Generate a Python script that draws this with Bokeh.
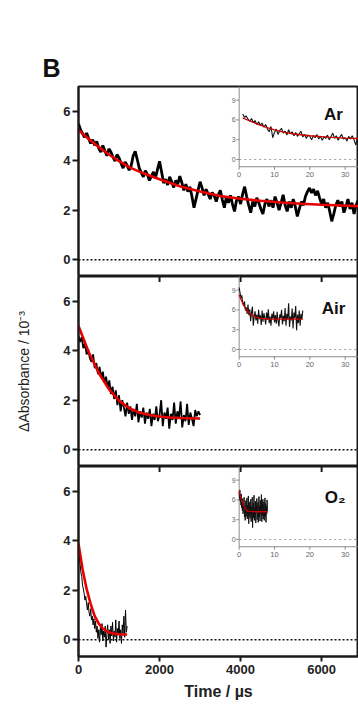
from bokeh.plotting import figure
from bokeh.layouts import column
from bokeh.models import Range1d, FixedTicker, Span, Label
from bokeh.embed import file_html
from bokeh.resources import INLINE
from bokeh.core.properties import value

FONT = "Liberation Sans"

# ---------------- main panels: time in microseconds, dAbs in 1e-3 ----------------
ar_t = [i * 50 for i in range(139)]
ar_y = [5.50, 5.25, 5.10, 4.95, 5.12, 4.90, 4.70, 4.85, 4.62, 4.78,
        4.50, 4.35, 4.62, 4.40, 4.20, 4.48, 4.35, 4.15, 3.98, 4.25,
        4.12, 3.90, 3.70, 3.95, 3.82, 3.62, 3.80, 4.20, 4.38, 4.05,
        3.70, 3.52, 3.35, 3.60, 3.45, 3.20, 3.38, 3.55, 3.30, 3.65,
        3.98, 3.55, 3.10, 3.25, 3.02, 3.35, 3.15, 2.92, 3.20, 3.05,
        3.38, 3.12, 2.80, 3.05, 2.75, 2.95, 2.55, 2.10, 2.45, 2.80,
        3.15, 2.90, 2.60, 2.85, 2.65, 2.45, 2.72, 2.58, 2.35, 2.62,
        2.80, 2.42, 2.10, 2.55, 2.30, 2.60, 2.25, 1.95, 2.40, 2.55,
        2.25, 2.65, 2.95, 2.55, 2.20, 1.90, 2.35, 2.15, 2.50, 2.30,
        2.05, 1.85, 2.25, 2.45, 2.15, 2.40, 2.10, 2.55, 2.30, 2.00,
        2.30, 2.62, 2.20, 1.95, 2.35, 2.10, 2.45, 2.15, 1.75, 2.05,
        2.35, 2.20, 2.55, 2.75, 2.90, 2.70, 2.85, 2.60, 2.78, 2.50,
        2.25, 2.45, 2.10, 2.30, 1.95, 1.55, 1.85, 2.20, 2.40, 2.15,
        2.35, 1.90, 2.15, 2.45, 2.05, 2.30, 1.85, 2.20, 2.40]
ar_fit_t = [0, 250, 500, 750, 1000, 1250, 1500, 1750, 2000, 2500, 3000, 3500,
            4000, 4500, 5000, 5500, 6000, 6500, 7000]
ar_fit_y = [5.24, 4.88, 4.55, 4.25, 3.98, 3.74, 3.56, 3.40, 3.25, 2.97, 2.76, 2.57,
            2.46, 2.38, 2.31, 2.26, 2.22, 2.19, 2.16]

air_t = [i * 40 for i in range(76)]
air_y = [4.60, 4.35, 4.55, 4.10, 4.30, 3.85, 4.05, 3.70, 3.55, 3.85,
         3.30, 3.50, 3.05, 3.35, 2.90, 3.15, 2.70, 2.95, 2.50, 2.80,
         2.25, 2.55, 2.05, 2.40, 1.80, 2.20, 1.55, 2.00, 1.70, 1.35,
         1.90, 1.45, 1.75, 1.20, 1.65, 1.35, 1.85, 1.10, 1.55, 1.30,
         1.70, 1.05, 1.50, 1.25, 1.65, 0.95, 1.45, 1.20, 1.75, 1.15,
         1.40, 2.00, 0.95, 1.50, 1.25, 1.70, 0.85, 1.45, 1.20, 1.90,
         1.05, 1.55, 1.30, 1.95, 0.90, 1.40, 1.15, 1.85, 1.00, 1.50,
         1.25, 0.95, 1.60, 1.35, 1.55, 1.40]
air_fit_t = [0, 250, 500, 750, 1000, 1250, 1500, 1750, 2000, 2250, 2500, 2750, 3000]
air_fit_y = [5.00, 3.95, 3.10, 2.45, 1.98, 1.68, 1.50, 1.40, 1.34, 1.30, 1.28, 1.27, 1.26]

o2_t = [i * 20 for i in range(61)]
o2_y = [3.70, 3.30, 3.05, 2.70, 2.55, 2.20, 2.05, 1.85, 1.60, 1.75,
        1.45, 1.20, 1.50, 1.10, 0.95, 1.25, 0.80, 0.95, 0.60, 0.85,
        0.45, 0.75, 0.30, 0.55, 0.05, 0.40, -0.10, 0.50, 0.20, 0.65,
        -0.05, 0.35, 0.10, 0.55, -0.30, 0.25, 0.60, 0.00, 0.40, -0.15,
        0.55, 0.15, 0.70, -0.05, 0.35, 0.10, 0.80, -0.10, 0.45, 0.20,
        0.75, 0.05, 0.40, -0.15, 0.60, 0.25, 0.95, 0.10, 1.20, 0.30,
        0.55]
o2_fit_t = [0, 100, 200, 300, 400, 500, 600, 700, 800, 900, 1000, 1100, 1200]
o2_fit_y = [3.88, 2.85, 2.05, 1.45, 0.95, 0.65, 0.45, 0.34, 0.27, 0.24, 0.22, 0.21, 0.21]

# ---------------- insets ----------------
ar_in_x = [1.0 + 0.5 * i for i in range(70)]
ar_in_y = [6.90, 6.40, 6.60, 6.10, 5.80, 6.20, 5.60, 5.90, 5.30, 5.70,
           5.20, 5.50, 4.90, 5.30, 4.60, 4.20, 5.00, 3.30, 4.10, 4.60,
           3.80, 4.40, 4.70, 4.00, 4.30, 3.70, 4.50, 3.90, 4.20, 3.60,
           4.10, 3.50, 3.90, 4.30, 3.40, 3.80, 3.20, 3.70, 3.50, 3.00,
           3.60, 3.30, 3.80, 3.10, 3.50, 2.90, 3.40, 3.20, 3.70, 3.00,
           3.50, 4.00, 3.20, 3.60, 2.90, 3.40, 3.80, 3.10, 3.30, 2.80,
           3.50, 3.10, 3.60, 3.00, 2.20, 3.40, 2.90, 3.30, 3.60, 3.10]
ar_in_fit_x = [1, 2.5, 5, 7.5, 10, 12.5, 15, 20, 25, 30, 35, 38]
ar_in_fit_y = [6.30, 5.95, 5.40, 4.90, 4.50, 4.15, 3.90, 3.60, 3.40, 3.25, 3.15, 3.10]

air_in_x = [0.25 * i for i in range(73)]
air_in_y = [9.40, 8.60, 7.80, 8.20, 7.10, 6.60, 7.30, 5.90, 6.40, 5.40,
            6.80, 5.20, 6.10, 4.30, 5.60, 6.50, 3.60, 5.00, 5.80, 4.40,
            5.30, 3.90, 6.00, 4.60, 5.20, 3.70, 5.90, 4.20, 5.50, 4.80,
            3.80, 5.60, 4.50, 6.10, 4.00, 5.00, 3.60, 5.40, 4.70, 5.80,
            4.10, 5.20, 3.90, 5.70, 4.40, 3.50, 5.30, 4.80, 6.00, 3.80,
            5.10, 4.30, 6.30, 3.60, 5.40, 4.60, 7.00, 3.40, 5.00, 4.40,
            6.20, 3.20, 5.60, 4.80, 6.60, 2.90, 5.30, 4.00, 5.90, 3.60,
            5.40, 4.60, 5.90]
air_in_fit_x = [0, 0.5, 1, 1.5, 2, 3, 4, 5, 6, 8, 10, 14, 18]
air_in_fit_y = [8.30, 7.60, 7.00, 6.50, 6.10, 5.50, 5.10, 4.85, 4.72, 4.62, 4.60, 4.60, 4.60]

o2_in_x = [0.1 * i for i in range(81)]
o2_in_y = [7.20, 6.10, 7.50, 5.80, 6.60, 5.20, 6.90, 4.80, 5.90, 4.40,
           6.20, 3.90, 5.40, 4.60, 6.40, 3.40, 5.10, 2.90, 4.80, 5.90,
           3.50, 4.70, 6.30, 3.10, 5.20, 4.00, 6.60, 2.40, 4.90, 3.60,
           5.70, 3.20, 4.50, 6.10, 2.70, 5.00, 3.80, 6.40, 1.80, 4.60,
           5.50, 3.30, 6.70, 2.90, 4.80, 3.70, 5.80, 2.50, 5.20, 4.10,
           6.20, 3.00, 4.70, 5.60, 2.60, 4.40, 6.50, 3.40, 5.10, 2.80,
           5.90, 3.80, 4.90, 6.80, 2.70, 5.30, 3.60, 6.10, 3.10, 4.60,
           5.70, 2.90, 4.40, 6.30, 3.50, 5.40, 2.60, 5.00, 3.90, 6.00,
           4.30]
o2_in_fit_x = [0, 0.5, 1, 1.5, 2, 2.5, 3, 5, 8]
o2_in_fit_y = [7.30, 6.30, 5.50, 4.90, 4.50, 4.30, 4.25, 4.20, 4.20]

x_ticks = [0, 2000, 4000, 6000]
y_ticks = [0, 2, 4, 6]
inset_xticks = [0, 10, 20, 30]
inset_yticks = [0, 3, 6, 9]
gas_labels = ["Ar", "Air", "O\u2082"]
panel_letter = "B"

AX = "#1a1a1a"
RED = "#e60000"
GRAY = "#8a8a8a"
Y_TOP = 7.0
x_range = Range1d(0, 6910)


def style_y(p):
    ax = p.yaxis[0]
    ax.ticker = FixedTicker(ticks=y_ticks)
    ax.major_label_text_font = FONT
    ax.major_label_text_font_style = "bold"
    ax.major_label_text_font_size = "13px"
    ax.major_label_text_color = "#222222"
    ax.axis_line_width = 2
    ax.axis_line_color = AX
    ax.major_tick_line_width = 2
    ax.major_tick_line_color = AX
    ax.major_tick_out = 6
    ax.major_tick_in = 0
    ax.minor_tick_out = 0
    ax.minor_tick_in = 0
    ax.major_label_standoff = 2


def make_panel(height, top, bottom, below):
    p = figure(width=358, height=height, x_range=x_range,
               y_range=Range1d(-0.68, Y_TOP),
               output_backend="svg", toolbar_location=None,
               min_border_left=78, min_border_right=0,
               min_border_top=top, min_border_bottom=bottom,
               x_axis_location="below" if below else None)
    p.grid.visible = False
    p.outline_line_color = AX
    p.outline_line_width = 2
    p.background_fill_color = "white"
    p.border_fill_color = "white"
    style_y(p)
    return p


def add_top_ticks(p):
    # ticks of the panel above, hanging into this panel
    ticks = x_ticks[1:]
    p.segment(x0=ticks, y0=[Y_TOP] * len(ticks), x1=ticks,
              y1=[Y_TOP - 0.22] * len(ticks), line_color=AX, line_width=2)


def add_main(p, t, y, lw, ft, fy):
    p.add_layout(Span(location=0, dimension="width", line_color="#111111",
                      line_width=1.6, line_dash="2 2"))
    p.line(t, y, line_color="#000000", line_width=lw)
    p.line(ft, fy, line_color=RED, line_width=2.6)


def add_inset(p, x, y, fx, fy, lw):
    sub = p.subplot(x_source=Range1d(0, 10), y_source=Range1d(0, 9),
                    x_target=Range1d(3965, 4837), y_target=Range1d(4.05, 6.45))
    sub.segment(x0=[0], y0=[0], x1=[45], y1=[0], line_color="#a0a0a0",
                line_width=1, line_dash="2 3")
    sub.segment(x0=[0, 0], y0=[-1.1, -1.1], x1=[0, 45], y1=[12, -1.1],
                line_color=GRAY, line_width=1)
    sub.segment(x0=[-0.8] * len(inset_yticks), y0=inset_yticks,
                x1=[0] * len(inset_yticks), y1=inset_yticks,
                line_color=GRAY, line_width=1)
    sub.segment(x0=inset_xticks, y0=[-1.1] * len(inset_xticks),
                x1=inset_xticks, y1=[-1.55] * len(inset_xticks),
                line_color=GRAY, line_width=1)
    sub.text(x=[-1.0] * len(inset_yticks), y=inset_yticks,
             text=[str(v) for v in inset_yticks],
             text_font=value(FONT), text_font_size=value("7px"),
             text_color="#666666", text_align="right", text_baseline="middle")
    sub.text(x=inset_xticks, y=[-1.9] * len(inset_xticks),
             text=[str(v) for v in inset_xticks],
             text_font=value(FONT), text_font_size=value("7.5px"),
             text_color="#666666", text_align="center", text_baseline="top")
    sub.line(x, y, line_color="#111111", line_width=lw)
    sub.line(fx, fy, line_color="#cc0000", line_width=1.3)


def add_gas(p, text, x, y):
    p.add_layout(Label(x=x, y=y, text=text, text_font=FONT,
                       text_font_size="17px", text_font_style="bold",
                       text_color="#111111", text_baseline="alphabetic"))


# Panel 1 (Ar) with the panel letter as its title
p1 = make_panel(276, 86, 0, False)
p1.title.text = panel_letter
p1.title.align = "left"
p1.title.offset = -36
p1.title.text_font = FONT
p1.title.text_font_size = "25px"
p1.title.text_font_style = "bold"
p1.title.text_color = "#111111"
add_main(p1, ar_t, ar_y, 2.8, ar_fit_t, ar_fit_y)
add_inset(p1, ar_in_x, ar_in_y, ar_in_fit_x, ar_in_fit_y, 1.1)
add_gas(p1, gas_labels[0], 6060, 5.87)

# Panel 2 (Air)
p2 = make_panel(190, 0, 0, False)
add_top_ticks(p2)
add_main(p2, air_t, air_y, 1.8, air_fit_t, air_fit_y)
add_inset(p2, air_in_x, air_in_y, air_in_fit_x, air_in_fit_y, 1.1)
add_gas(p2, gas_labels[1], 6000, 5.71)
ya = p2.yaxis[0]
ya.axis_label = "\u0394Absorbance / 10\u207b\u00b3"
ya.axis_label_text_font = FONT
ya.axis_label_text_font_style = "normal"
ya.axis_label_text_font_size = "14px"
ya.axis_label_text_color = "#222222"
ya.axis_label_standoff = 28

# Panel 3 (O2)
p3 = make_panel(243, 0, 53, True)
add_top_ticks(p3)
add_main(p3, o2_t, o2_y, 1.0, o2_fit_t, o2_fit_y)
add_inset(p3, o2_in_x, o2_in_y, o2_in_fit_x, o2_in_fit_y, 1.0)
add_gas(p3, gas_labels[2], 6080, 5.74)
xa = p3.below[0]
xa.ticker = FixedTicker(ticks=x_ticks)
xa.major_label_text_font = FONT
xa.major_label_text_font_style = "bold"
xa.major_label_text_font_size = "13px"
xa.major_label_text_color = "#222222"
xa.axis_line_width = 2
xa.axis_line_color = AX
xa.major_tick_line_width = 2
xa.major_tick_line_color = AX
xa.major_tick_out = 5
xa.major_tick_in = 0
xa.minor_tick_out = 0
xa.minor_tick_in = 0
xa.major_label_standoff = 3
xa.axis_label = "Time / \u00b5s"
xa.axis_label_text_font = FONT
xa.axis_label_text_font_style = "bold"
xa.axis_label_text_font_size = "16px"
xa.axis_label_text_color = "#222222"
xa.axis_label_standoff = 6

layout = column(p1, p2, p3, spacing=0)
open("out.html", "w").write(file_html(layout, INLINE))
